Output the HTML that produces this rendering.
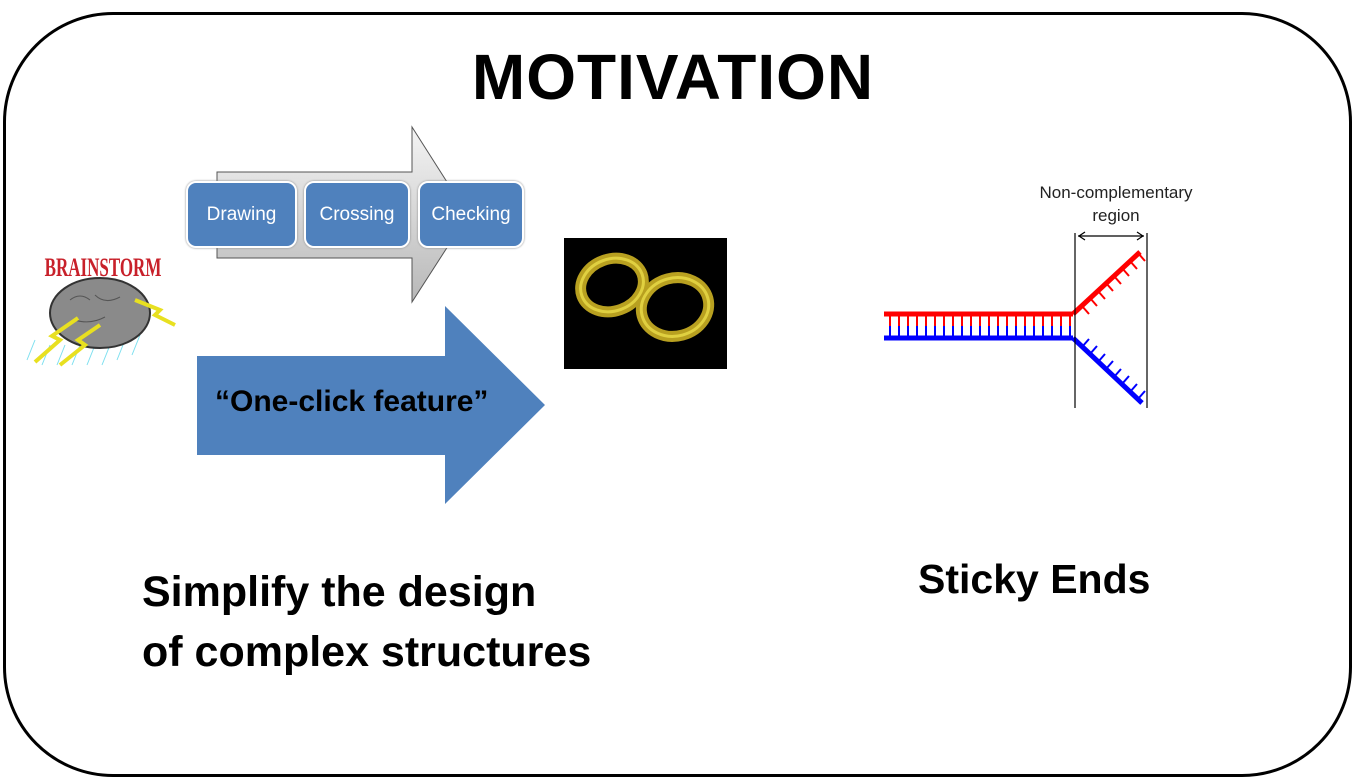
<!DOCTYPE html>
<html><head><style>
body{margin:0;width:1366px;height:779px;background:#fff;overflow:hidden;font-family:"Liberation Sans",sans-serif;position:relative}
.t{position:absolute;white-space:nowrap;font-weight:bold;color:#000}
.box{position:absolute;top:181px;height:67px;background:#4f81bd;border:2px solid #fff;border-radius:10px;box-shadow:0 0 2px #888;color:#fff;font-size:19px;display:flex;align-items:center;justify-content:center;box-sizing:border-box}
</style></head><body>
<div style="position:absolute;left:3px;top:12px;width:1343px;height:759px;border:3px solid #000;border-radius:110px;box-sizing:content-box"></div>
<div class="t" style="left:0;width:1346px;text-align:center;top:40px;font-size:64px;letter-spacing:1px">MOTIVATION</div>
<svg width="1366" height="779" style="position:absolute;left:0;top:0">
<defs><linearGradient id="g" x1="0" y1="0" x2="0" y2="1"><stop offset="0" stop-color="#f4f4f4"/><stop offset="1" stop-color="#b8b8b8"/></linearGradient></defs>
<polygon points="217,172 412,172 412,127 468,215 412,302 412,258 217,258" fill="url(#g)" stroke="#555" stroke-width="1"/>
<polygon points="197,356 445,356 445,306 545,405 445,504 445,455 197,455" fill="#4f81bd"/>
<rect x="564" y="238" width="163" height="131" fill="#000"/>
<g fill="none" stroke="#b8a020" stroke-width="11">
<ellipse cx="612" cy="285" rx="32" ry="26" transform="rotate(-20 612 285)"/>
<ellipse cx="675" cy="307" rx="34" ry="29" transform="rotate(-15 675 307)"/>
</g>
<g fill="none" stroke="#e0d040" stroke-width="3">
<ellipse cx="612" cy="285" rx="32" ry="26" transform="rotate(-20 612 285)"/>
<ellipse cx="675" cy="307" rx="34" ry="29" transform="rotate(-15 675 307)"/>
</g>
<!-- brain -->
<g stroke="#7fe0f0" stroke-width="1">
<path d="M35 340l-8 20M50 345l-8 20M65 345l-8 20M80 345l-8 20M95 345l-8 20M110 345l-8 20M125 340l-8 20M140 335l-8 20"/>
</g>
<text x="103" y="276" text-anchor="middle" font-family="Liberation Serif" font-weight="bold" font-size="20" fill="#c8202a" transform="translate(103 276) scale(0.85 1.3) translate(-103 -276)">BRAINSTORM</text>
<ellipse cx="100" cy="313" rx="50" ry="35" fill="#8a8a8a" stroke="#333" stroke-width="2"/>
<path d="M70 300q10-8 20 0M95 295q10 10 25 2M75 320q15 5 30-3" stroke="#555" fill="none"/>
<polyline points="35,362 60,340 52,336 78,318" stroke="#e8e020" stroke-width="4" fill="none"/>
<polyline points="60,365 85,345 78,340 100,325" stroke="#e8e020" stroke-width="4" fill="none"/>
<polyline points="135,300 160,310 155,315 175,325" stroke="#e8e020" stroke-width="4" fill="none"/>
<!-- DNA -->
<g stroke-width="5" fill="none">
<line x1="884" y1="314" x2="1073" y2="314" stroke="#f00"/>
<line x1="884" y1="338" x2="1073" y2="338" stroke="#00f"/>
<line x1="1073" y1="314" x2="1140" y2="252" stroke="#f00"/>
<line x1="1073" y1="338" x2="1142" y2="403" stroke="#00f"/>
</g>
<g stroke-width="2">
<path d="M890 316v10M899 316v10M908 316v10M917 316v10M926 316v10M935 316v10M944 316v10M953 316v10M962 316v10M971 316v10M980 316v10M989 316v10M998 316v10M1007 316v10M1016 316v10M1025 316v10M1034 316v10M1043 316v10M1052 316v10M1061 316v10M1070 316v10" stroke="#f00"/>
<path d="M890 326v10M899 326v10M908 326v10M917 326v10M926 326v10M935 326v10M944 326v10M953 326v10M962 326v10M971 326v10M980 326v10M989 326v10M998 326v10M1007 326v10M1016 326v10M1025 326v10M1034 326v10M1043 326v10M1052 326v10M1061 326v10M1070 326v10" stroke="#00f"/>
<path d="M1082 306l7 8M1090 298l7 8M1098 291l7 8M1106 283l7 8M1114 276l7 8M1122 268l7 8M1130 261l7 8M1138 253l7 8" stroke="#f00"/>
<path d="M1082 347l7 -8M1090 354l7 -8M1098 362l7 -8M1106 369l7 -8M1114 377l7 -8M1122 384l7 -8M1130 392l7 -8M1138 399l7 -8" stroke="#00f"/>
</g>
<g stroke="#000" stroke-width="1.2" fill="none">
<line x1="1075" y1="233" x2="1075" y2="408"/>
<line x1="1147" y1="233" x2="1147" y2="408"/>
<line x1="1078" y1="236" x2="1144" y2="236"/>
<path d="M1085 232l-6 4 6 4M1137 232l6 4-6 4"/>
</g>
<text x="1116" y="198" text-anchor="middle" font-size="17" fill="#222">Non-complementary</text>
<text x="1116" y="221" text-anchor="middle" font-size="17" fill="#222">region</text>
</svg>
<div class="box" style="left:186px;width:111px">Drawing</div>
<div class="box" style="left:304px;width:106px">Crossing</div>
<div class="box" style="left:418px;width:106px">Checking</div>
<div class="t" style="left:215px;top:385px;font-size:30px">“One-click feature”</div>
<div class="t" style="left:142px;top:562px;font-size:43px;line-height:60px">Simplify the design<br>of complex structures</div>
<div class="t" style="left:918px;top:556px;font-size:41px">Sticky Ends</div>
</body></html>
